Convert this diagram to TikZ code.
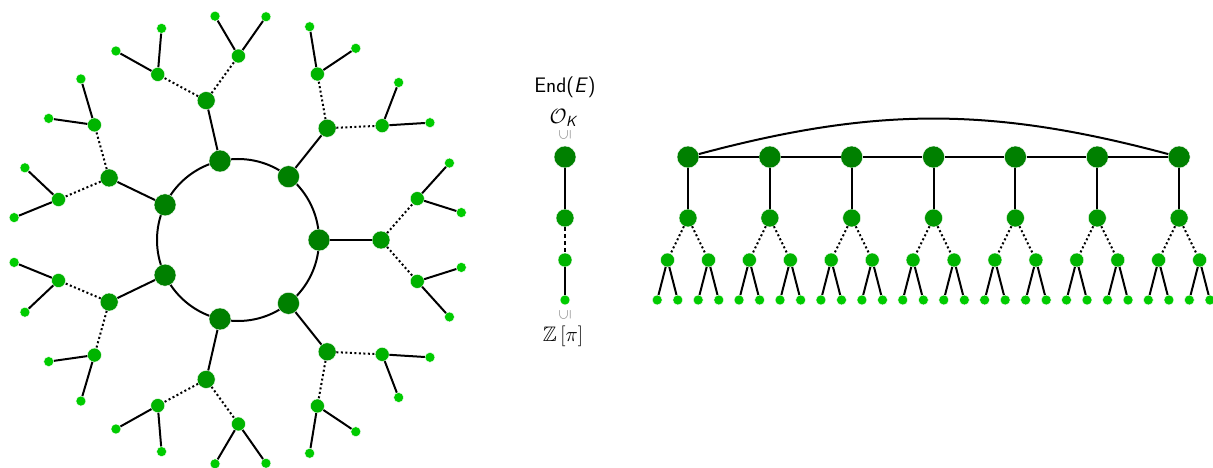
\documentclass[tikz,border=0pt]{standalone}
\usepackage{amsmath,amssymb}
\definecolor{gA}{RGB}{0,128,0}
\definecolor{gB}{RGB}{0,152,0}
\definecolor{gC}{RGB}{0,180,0}
\definecolor{gD}{RGB}{0,204,0}
\definecolor{subgray}{RGB}{120,120,120}
\tikzset{
  nodebase/.style={circle,inner sep=0pt,draw=white,line width=0.4pt},
  nA/.style={nodebase,fill=gA,minimum size=22pt},
  nB/.style={nodebase,fill=gB,minimum size=18pt},
  nC/.style={nodebase,fill=gC,minimum size=14pt},
  nD/.style={nodebase,fill=gD,minimum size=10pt},
  edge/.style={line width=2pt,black},
  dotedge/.style={line width=2pt,black,dash pattern=on 2pt off 2.5pt},
  lbl/.style={inner sep=0pt,font=\fontsize{21}{24}\selectfont},
  subs/.style={inner sep=0pt,rotate=90,text=subgray,font=\fontsize{15}{16}\selectfont}
}
\begin{document}
\begin{tikzpicture}[x=1pt,y=-1pt]
\useasboundingbox (0,0) rectangle (1213,468);
% ---------- left: cycle with trees ----------
\coordinate (ctr) at (238,240);
\draw[edge] (ctr) circle[radius=81pt];
\foreach \k in {0,...,6} {
  \pgfmathsetmacro\a{\k*360/7}
  \node[nA] (c\k) at ({238+81*cos(\a)},{240-81*sin(\a)}) {};
  \node[nB] (b\k) at ({238+143*cos(\a)},{240-143*sin(\a)}) {};
  \node[nC] (p\k) at ({238+184*cos(\a+13)},{240-184*sin(\a+13)}) {};
  \node[nC] (q\k) at ({238+184*cos(\a-13)},{240-184*sin(\a-13)}) {};
  \node[nD] (pa\k) at ({238+225*cos(\a+20)},{240-225*sin(\a+20)}) {};
  \node[nD] (pb\k) at ({238+225*cos(\a+7)},{240-225*sin(\a+7)}) {};
  \node[nD] (qa\k) at ({238+225*cos(\a-7)},{240-225*sin(\a-7)}) {};
  \node[nD] (qb\k) at ({238+225*cos(\a-20)},{240-225*sin(\a-20)}) {};
  \draw[edge] (c\k) -- (b\k);
  \draw[dotedge] (b\k) -- (p\k);
  \draw[dotedge] (b\k) -- (q\k);
  \draw[edge] (p\k) -- (pa\k);
  \draw[edge] (p\k) -- (pb\k);
  \draw[edge] (q\k) -- (qa\k);
  \draw[edge] (q\k) -- (qb\k);
}
% ---------- middle: chain ----------
\node[lbl] (endE) at (565,87) {\sffamily End(\textit{E})};
\node[lbl] (OK) at (563,118) {$\mathcal{O}_{\text{\sffamily\itshape K}}$};
\node[subs] (subA) at (565,135) {$\subseteq$};
\node[nA] (m1) at (565,157) {};
\node[nB] (m2) at (565,218) {};
\node[nC] (m3) at (565,260) {};
\node[nD] (m4) at (565,300) {};
\node[subs] (subB) at (565,315) {$\subseteq$};
\node[lbl] (Zpi) at (563,336) {$\mathbb{Z}\,[\pi]$};
\draw[edge] (m1) -- (m2);
\draw[line width=2pt,black,dash pattern=on 4pt off 3pt] (m2) -- (m3);
\draw[edge] (m3) -- (m4);
% ---------- right: row of trees ----------
\foreach \i in {0,...,6} {
  \pgfmathsetmacro\x{688+81.85*\i}
  \node[nA] (t\i) at (\x,157) {};
  \node[nB] (s\i) at (\x,218) {};
  \node[nC] (u\i) at (\x-20.5,260) {};
  \node[nC] (v\i) at (\x+20.5,260) {};
  \node[nD] (ua\i) at (\x-30.8,300) {};
  \node[nD] (ub\i) at (\x-10.2,300) {};
  \node[nD] (va\i) at (\x+10.2,300) {};
  \node[nD] (vb\i) at (\x+30.8,300) {};
  \draw[edge] (t\i) -- (s\i);
  \draw[dotedge] (s\i) -- (u\i);
  \draw[dotedge] (s\i) -- (v\i);
  \draw[edge] (u\i) -- (ua\i);
  \draw[edge] (u\i) -- (ub\i);
  \draw[edge] (v\i) -- (va\i);
  \draw[edge] (v\i) -- (vb\i);
}
\foreach \i [count=\j] in {0,...,5} {
  \draw[edge] (t\i) -- (t\j);
}
\draw[edge] (t0) to[bend left=15] (t6);
\end{tikzpicture}
\end{document}
